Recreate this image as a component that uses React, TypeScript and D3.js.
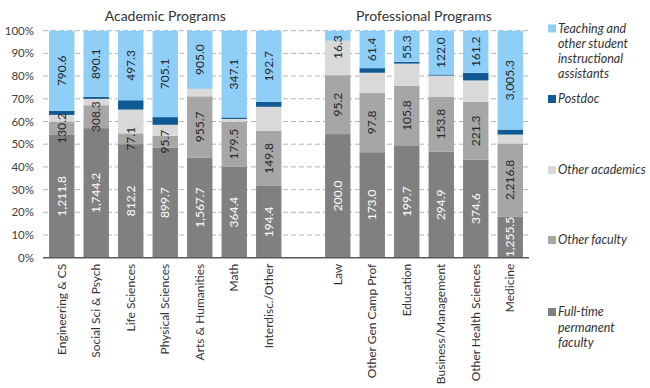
import React from "react";
import * as d3 from "d3";

const academicCats = ["Engineering & CS", "Social Sci & Psych", "Life Sciences", "Physical Sciences", "Arts & Humanities", "Math", "Interdisc./Other"];
const professionalCats = ["Law", "Other Gen Camp Prof", "Education", "Business/Management", "Other Health Sciences", "Medicine"];

// values in the order academic then professional
const fullTime = [1211.8, 1744.2, 812.2, 899.7, 1567.7, 364.4, 194.4, 200.0, 173.0, 199.7, 294.9, 374.6, 1255.5];
const otherFaculty = [130.2, 308.3, 77.1, 95.7, 955.7, 179.5, 149.8, 95.2, 97.8, 105.8, 153.8, 221.3, 2216.8];
const otherAcademics = [67, 86, 170, 89, 117, 11, 64.5, 55.7, 32.6, 39.3, 58.5, 82, 270];
const postdoc = [40, 27, 67, 63, 4, 6, 13.5, 0, 7.5, 3.2, 3, 29, 153];
const teaching = [790.6, 890.1, 497.3, 705.1, 905.0, 347.1, 192.7, 16.3, 61.4, 55.3, 122.0, 161.2, 3005.3];

const yTicks = [0, 0.1, 0.2, 0.3, 0.4, 0.5, 0.6, 0.7, 0.8, 0.9, 1];

const seriesKeys = ["fullTime", "otherFaculty", "otherAcademics", "postdoc", "teaching"];
const seriesColors: Record<string, string> = {
  fullTime: "#808080",
  otherFaculty: "#a6a6a6",
  otherAcademics: "#d9d9d9",
  postdoc: "#0f5a92",
  teaching: "#8fcff7",
};
const labeled = ["fullTime", "otherFaculty", "teaching"];

const font = "Lato, 'Open Sans', sans-serif";

export default function App() {
  const cats = [...academicCats, professionalCats.length ? "__gap" : "", ...professionalCats];
  const allCats = [...academicCats, ...professionalCats];
  const rows = allCats.map((c, i) => ({
    cat: c,
    fullTime: fullTime[i],
    otherFaculty: otherFaculty[i],
    otherAcademics: otherAcademics[i],
    postdoc: postdoc[i],
    teaching: teaching[i],
  }));

  const stacked = d3.stack<any>().keys(seriesKeys).offset(d3.stackOffsetExpand)(rows);

  const x = d3.scaleBand().domain(cats).range([43, 529]).paddingInner(0.264).paddingOuter(0.175);
  const y = d3.scaleLinear().domain([0, 1]).range([257.7, 30.7]);
  const fmt = d3.format(",.1f");

  const mid = (name: string[]) => {
    const a = x(name[0])!;
    const b = x(name[name.length - 1])! + x.bandwidth();
    return (a + b) / 2;
  };

  const legend = [
    { key: "teaching", lines: ["Teaching and", "other student", "instructional", "assistants"], y: 28.5 },
    { key: "postdoc", lines: ["Postdoc"], y: 99 },
    { key: "otherAcademics", lines: ["Other academics"], y: 170 },
    { key: "otherFaculty", lines: ["Other faculty"], y: 240 },
    { key: "fullTime", lines: ["Full-time", "permanent", "faculty"], y: 312 },
  ];

  return (
    <svg width={650} height={388} style={{ position: "absolute", left: 0, top: 0, background: "#fff" }} fontFamily={font}>
      {/* gridlines */}
      {yTicks.filter((t) => t > 0).map((t) => (
        <line key={t} x1={43} x2={529} y1={y(t)} y2={y(t)} stroke="#b4b4b4" strokeDasharray="5 3" strokeWidth={1} />
      ))}
      {yTicks.map((t) => (
        <text key={"l" + t} x={34} y={y(t)} dy="0.35em" textAnchor="end" fontSize={11.5} fill="#404040">
          {d3.format(".0%")(t)}
        </text>
      ))}

      {/* bars */}
      {stacked.map((s) => (
        <g key={s.key} fill={seriesColors[s.key]}>
          {s.map((d, i) => {
            const h = y(d[0]) - y(d[1]);
            if (h <= 0) return null;
            return <rect key={i} x={x(allCats[i])} y={y(d[1])} width={x.bandwidth()} height={h} />;
          })}
        </g>
      ))}

      {/* value labels */}
      {stacked
        .filter((s) => labeled.includes(s.key))
        .map((s) => (
          <g key={"v" + s.key}>
            {s.map((d, i) => {
              const raw = (rows[i] as any)[s.key] as number;
              const txt = fmt(raw);
              const len = txt.length * 6.2;
              let cy = (y(d[0]) + y(d[1])) / 2;
              cy = Math.max(cy, y(1) + len / 2 + 4);
              const cx = x(allCats[i])! + x.bandwidth() / 2;
              return (
                <text
                  key={i}
                  transform={`translate(${cx},${cy}) rotate(-90)`}
                  textAnchor="middle"
                  dy="0.35em"
                  fontSize={12}
                  fill={s.key === "fullTime" ? "#ffffff" : "#262626"}
                >
                  {txt}
                </text>
              );
            })}
          </g>
        ))}

      {/* axis line */}
      <line x1={43} x2={529} y1={y(0)} y2={y(0)} stroke="#595959" strokeWidth={1.5} />

      {/* x labels */}
      {allCats.map((c) => (
        <text
          key={"x" + c}
          transform={`translate(${x(c)! + x.bandwidth() / 2},${y(0) + 6}) rotate(-90)`}
          textAnchor="end"
          dy="0.35em"
          fontSize={12}
          fill="#333"
        >
          {c}
        </text>
      ))}

      {/* group titles */}
      <text x={mid(academicCats)} y={21} textAnchor="middle" fontSize={14} fill="#333">
        Academic Programs
      </text>
      <text x={mid(professionalCats)} y={21} textAnchor="middle" fontSize={14} fill="#333">
        Professional Programs
      </text>

      {/* legend */}
      {legend.map((l) => (
        <g key={"lg" + l.key}>
          <rect x={548} y={l.y - 4} width={8} height={8} fill={seriesColors[l.key]} />
          {l.lines.map((ln, j) => (
            <text key={j} x={558} y={l.y + j * 15.2} dy="0.35em" fontSize={12.5} fontStyle="italic" fill="#333">
              {ln}
            </text>
          ))}
        </g>
      ))}
    </svg>
  );
}
